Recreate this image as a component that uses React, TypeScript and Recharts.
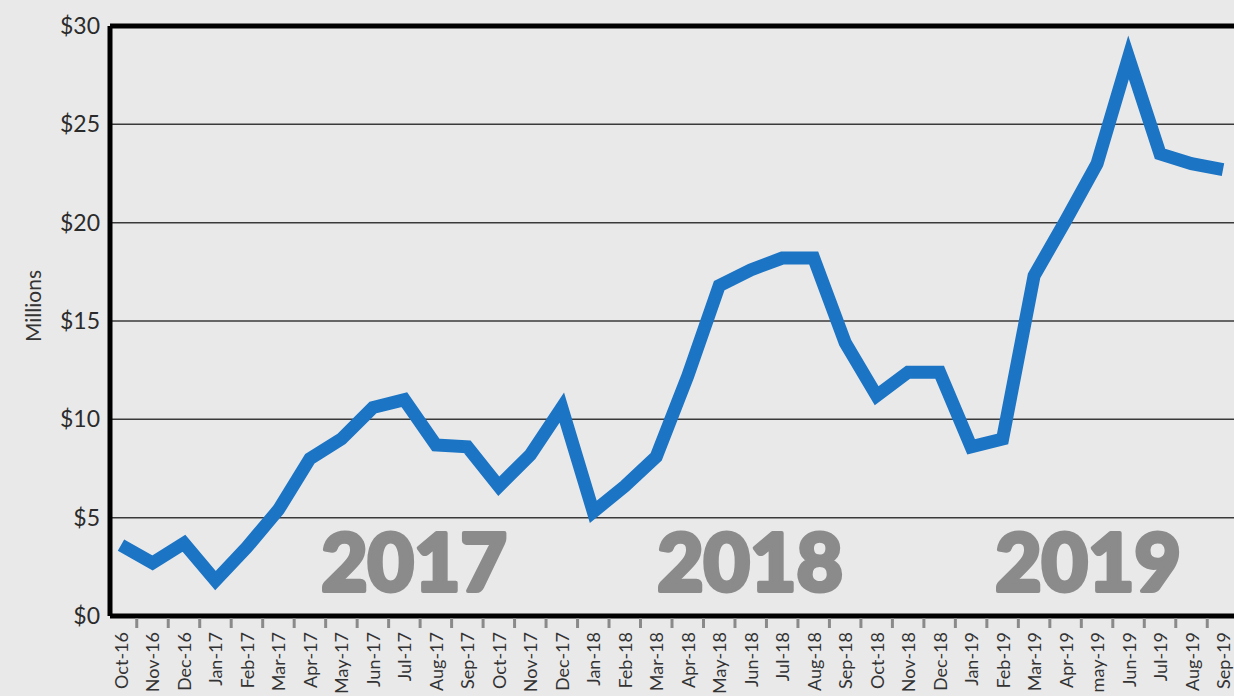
import React from 'react'
import { LineChart, Line, XAxis, YAxis, CartesianGrid, ReferenceLine } from 'recharts'

const months = [
  'Oct-16', 'Nov-16', 'Dec-16', 'Jan-17', 'Feb-17', 'Mar-17', 'Apr-17', 'May-17', 'Jun-17',
  'Jul-17', 'Aug-17', 'Sep-17', 'Oct-17', 'Nov-17', 'Dec-17', 'Jan-18', 'Feb-18', 'Mar-18',
  'Apr-18', 'May-18', 'Jun-18', 'Jul-18', 'Aug-18', 'Sep-18', 'Oct-18', 'Nov-18', 'Dec-18',
  'Jan-19', 'Feb-19', 'Mar-19', 'Apr-19', 'may-19', 'Jun-19', 'Jul-19', 'Aug-19', 'Sep-19',
]

// millions of dollars
const revenue = [
  3.6, 2.7, 3.7, 1.8, 3.5, 5.4, 8.0, 9.0, 10.6,
  11.0, 8.7, 8.6, 6.6, 8.2, 10.6, 5.3, 6.6, 8.1,
  12.2, 16.8, 17.6, 18.2, 18.2, 13.9, 11.2, 12.4, 12.4,
  8.6, 9.0, 17.3, 20.1, 23.0, 28.4, 23.5, 23.0, 22.7,
]

const yTicks = [0, 5, 10, 15, 20, 25, 30]
const yearLabels = ['2017', '2018', '2019']

const data = months.map((month, i) => ({ month, value: revenue[i] }))

const FONT = 'Lato, "Open Sans", sans-serif'
const STEP = 31.49

function MonthTick(props: any) {
  const { x, y, payload } = props
  const ty = y + 16
  return (
    <g>
      <line x1={x + STEP / 2} x2={x + STEP / 2} y1={y + 2} y2={y + 12} stroke="#8a8a8a" strokeWidth={3} />
      <text
        x={x}
        y={ty}
        transform={`rotate(-90 ${x} ${ty})`}
        textAnchor="end"
        dominantBaseline="central"
        fontSize={18}
        fill="#333"
        fontFamily={FONT}
      >
        {payload.value}
      </text>
    </g>
  )
}

function MillionsLabel(props: any) {
  const vb = props.viewBox
  const cx = vb.x + 32
  const cy = vb.y + vb.height / 2 - 15
  return (
    <text
      x={cx}
      y={cy}
      transform={`rotate(-90 ${cx} ${cy})`}
      textAnchor="middle"
      dominantBaseline="central"
      fontSize={21}
      fill="#333"
      fontFamily={FONT}
    >
      Millions
    </text>
  )
}

export default function App() {
  const yearX = [414, 750, 1088]
  return (
    <div
      style={{
        position: 'fixed',
        left: 0,
        top: 0,
        width: 1234,
        height: 696,
        overflow: 'hidden',
        background: '#e9e9ea',
      }}
    >
      <svg width={1234} height={696} style={{ position: 'absolute', left: 0, top: 0 }}>
        {yearLabels.map((label, i) => (
          <text
            key={label}
            x={yearX[i]}
            y={591}
            textAnchor="middle"
            fontSize={80}
            fontWeight={900}
            fill="#8b8b8b"
            stroke="#8b8b8b"
            strokeWidth={4}
            strokeLinejoin="round"
            fontFamily={FONT}
          >
            {label}
          </text>
        ))}
      </svg>
      <div style={{ position: 'absolute', left: 0, top: 0 }}>
        <LineChart width={1260} height={696} data={data} margin={{ top: 26, right: 21, bottom: 0, left: 0 }}>
          <CartesianGrid vertical={false} stroke="#3a3a3a" strokeWidth={1.5} />
          <XAxis
            dataKey="month"
            interval={0}
            height={80}
            padding={{ left: 11, right: 16 }}
            axisLine={{ stroke: '#000', strokeWidth: 5 }}
            tickLine={false}
            tickSize={0}
            tickMargin={0}
            tick={<MonthTick />}
          />
          <YAxis
            domain={[0, 30]}
            ticks={yTicks}
            width={110}
            axisLine={{ stroke: '#000', strokeWidth: 5 }}
            tickLine={false}
            tickSize={0}
            tickMargin={10}
            tickFormatter={(v) => `$${v}`}
            tick={{ fontSize: 23, fill: '#2b2b2b', fontFamily: FONT }}
            label={{ content: MillionsLabel }}
          />
          <ReferenceLine y={30} stroke="#000" strokeWidth={5} />
          <Line
            type="linear"
            dataKey="value"
            stroke="#1b74c4"
            strokeWidth={13}
            strokeLinejoin="miter"
            strokeMiterlimit={10}
            dot={false}
            activeDot={false}
            isAnimationActive={false}
          />
        </LineChart>
      </div>
    </div>
  )
}
